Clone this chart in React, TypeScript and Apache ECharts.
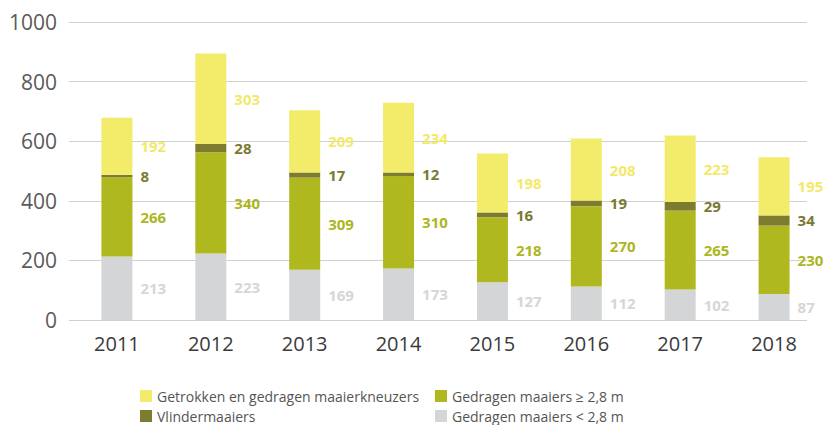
import React, { useEffect, useRef } from "react";
import * as echarts from "echarts";

const years = ["2011", "2012", "2013", "2014", "2015", "2016", "2017", "2018"];
const yTicks = [0, 200, 400, 600, 800, 1000];
const smallCarried = [213, 223, 169, 173, 127, 112, 102, 87];
const largeCarried = [266, 340, 309, 310, 218, 270, 265, 230];
const butterfly = [8, 28, 17, 12, 16, 19, 29, 34];
const conditioners = [192, 303, 209, 234, 198, 208, 223, 195];

const names = {
  small: "Gedragen maaiers < 2,8 m",
  large: "Gedragen maaiers ≥ 2,8 m",
  butterfly: "Vlindermaaiers",
  cond: "Getrokken en gedragen maaierkneuzers",
};

const colors = {
  small: "#d4d5d6",
  large: "#b0b81f",
  butterfly: "#7d7b2d",
  cond: "#f3ec6b",
};

const FONT = "'Open Sans', sans-serif";

export default function App() {
  const ref = useRef<HTMLDivElement>(null);
  useEffect(() => {
    if (!ref.current) return;
    const chart = echarts.init(ref.current, undefined, { renderer: "svg" });
    const mk = (name: string, data: number[], color: string, labelColor: string) => ({
      name,
      type: "bar",
      stack: "total",
      data,
      barWidth: 31,
      xAxisIndex: 0,
      yAxisIndex: 0,
      itemStyle: { color },
      label: {
        show: true,
        position: "right",
        distance: 8,
        color: labelColor,
        fontFamily: FONT,
        fontWeight: "bold",
        fontSize: 15,
      },
    });
    const yMin = yTicks[0];
    const yMax = yTicks[yTicks.length - 1];
    const yStep = yTicks[1] - yTicks[0];
    chart.setOption({
      animation: false,
      textStyle: { fontFamily: FONT },
      grid: [
        { left: 70, right: 3, top: 22, bottom: 105 },
        { left: 69, right: 17, top: 22, bottom: 105 },
      ],
      xAxis: [
        {
          type: "category",
          gridIndex: 0,
          data: years,
          axisLine: { show: false },
          axisTick: { show: false },
          axisLabel: { color: "#3a3a3a", fontSize: 20, fontFamily: FONT, margin: 13 },
        },
        {
          type: "category",
          gridIndex: 1,
          data: years,
          show: false,
        },
      ],
      yAxis: [
        {
          type: "value",
          gridIndex: 0,
          min: yMin,
          max: yMax,
          interval: yStep,
          splitLine: { show: false },
          axisLabel: { show: false },
          axisLine: { show: false },
          axisTick: { show: false },
        },
        {
          type: "value",
          gridIndex: 1,
          min: yMin,
          max: yMax,
          interval: yStep,
          splitLine: { show: true, lineStyle: { color: "#d0d0d0", width: 1 } },
          axisLine: { show: false },
          axisTick: { show: false },
          axisLabel: {
            color: "#5a5a5a",
            fontSize: 21,
            fontFamily: FONT,
            margin: 12,
            formatter: (v: number) => String(v),
          },
        },
      ],
      legend: [
        {
          left: 140,
          top: 389,
          orient: "vertical",
          itemWidth: 12,
          itemHeight: 12,
          itemGap: 6,
          icon: "rect",
          data: [names.cond, names.butterfly],
          textStyle: { color: "#555", fontSize: 14, fontFamily: FONT },
          padding: 0,
        },
        {
          left: 435,
          top: 389,
          orient: "vertical",
          itemWidth: 12,
          itemHeight: 12,
          itemGap: 6,
          icon: "rect",
          data: [names.large, names.small],
          textStyle: { color: "#555", fontSize: 14, fontFamily: FONT },
          padding: 0,
        },
      ],
      series: [
        mk(names.small, smallCarried, colors.small, "#d6d6d6"),
        mk(names.large, largeCarried, colors.large, "#adb61e"),
        mk(names.butterfly, butterfly, colors.butterfly, "#7a7a30"),
        mk(names.cond, conditioners, colors.cond, "#f2e96a"),
      ],
    });
    return () => chart.dispose();
  }, []);
  return <div ref={ref} style={{ width: 824, height: 425, position: "absolute", left: 0, top: 0 }} />;
}
